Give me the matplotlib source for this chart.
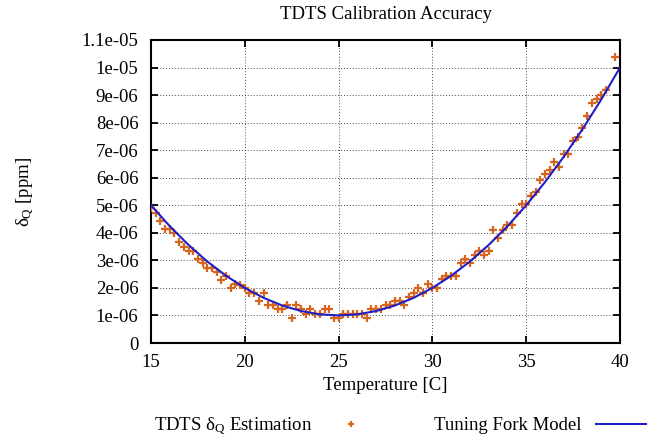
import numpy as np
import matplotlib
matplotlib.use("Agg")
import matplotlib.pyplot as plt

plt.rcParams['font.family'] = ['Liberation Serif', 'DejaVu Serif']
plt.rcParams['mathtext.fontset'] = 'custom'
plt.rcParams['mathtext.rm'] = 'Liberation Serif'
plt.rcParams['mathtext.it'] = 'Liberation Serif:italic'

# measured points (temperature in C, delta_Q in units of 1e-6)
meas_temp = [15.0, 15.25, 15.5, 15.75, 16.0, 16.25, 16.5, 16.75, 17.0, 17.25,
             17.5, 17.75, 18.0, 18.25, 18.5, 18.75, 19.0, 19.25, 19.5, 19.75,
             20.0, 20.25, 20.5, 20.75, 21.0, 21.25, 21.5, 21.75, 22.0, 22.25,
             22.5, 22.75, 23.0, 23.25, 23.5, 23.75, 24.0, 24.25, 24.5, 24.75,
             25.0, 25.25, 25.5, 25.75, 26.0, 26.25, 26.5, 26.75, 27.0, 27.25,
             27.5, 27.75, 28.0, 28.25, 28.5, 28.75, 29.0, 29.25, 29.5, 29.75,
             30.0, 30.25, 30.5, 30.75, 31.0, 31.25, 31.5, 31.75, 32.0, 32.25,
             32.5, 32.75, 33.0, 33.25, 33.5, 33.75, 34.0, 34.25, 34.5, 34.75,
             35.0, 35.25, 35.5, 35.75, 36.0, 36.25, 36.5, 36.75, 37.0, 37.25,
             37.5, 37.75, 38.0, 38.25, 38.5, 38.75, 39.0, 39.25, 39.75]
meas_val = [4.89, 4.71, 4.43, 4.13, 4.13, 3.98, 3.67, 3.50, 3.35, 3.35,
            3.05, 2.89, 2.73, 2.73, 2.59, 2.30, 2.43, 1.98, 2.14, 2.12,
            2.01, 1.83, 1.83, 1.52, 1.83, 1.37, 1.37, 1.22, 1.22, 1.37,
            0.92, 1.37, 1.22, 1.05, 1.22, 1.05, 1.05, 1.22, 1.22, 0.92,
            0.92, 1.05, 1.05, 1.05, 1.05, 1.05, 0.92, 1.22, 1.22, 1.22,
            1.37, 1.37, 1.52, 1.52, 1.37, 1.68, 1.83, 1.98, 1.83, 2.14,
            1.98, 1.98, 2.31, 2.44, 2.44, 2.44, 2.89, 3.05, 2.89, 3.21,
            3.35, 3.21, 3.35, 4.11, 3.81, 4.11, 4.27, 4.27, 4.73, 5.03,
            5.03, 5.35, 5.49, 5.92, 6.12, 6.27, 6.56, 6.40, 6.87, 6.87,
            7.34, 7.47, 7.79, 8.23, 8.70, 8.86, 9.01, 9.17, 10.38]

# tuning fork model read at 1 C steps
model_temp = list(range(15, 41))
model_val = [5.0, 4.24, 3.56, 2.96, 2.44, 2.0, 1.64, 1.36, 1.16, 1.04,
             1.0, 1.04, 1.16, 1.36, 1.64, 2.0, 2.44, 2.96, 3.56, 4.24,
             5.0, 5.84, 6.76, 7.76, 8.84, 10.0]

xticks = [15, 20, 25, 30, 35, 40]
yticks = [0, 1e-6, 2e-6, 3e-6, 4e-6, 5e-6, 6e-6, 7e-6, 8e-6, 9e-6, 1e-5, 1.1e-5]
ylabels = ["0", "1e-06", "2e-06", "3e-06", "4e-06", "5e-06", "6e-06",
           "7e-06", "8e-06", "9e-06", "1e-05", "1.1e-05"]

fs = 13.5

fig = plt.figure(figsize=(6.59, 4.41), dpi=100)
ax = fig.add_axes([151/659, 1-343/441, 469/659, 303/441])

ax.plot(meas_temp, np.array(meas_val)*1e-6, linestyle='none', marker='+',
        color='#d9641c', markersize=6, markeredgewidth=1.6,
        label=r'TDTS δ$_\mathrm{Q}$ Estimation', zorder=3)
ax.plot(model_temp, np.array(model_val)*1e-6, color='#1f1fc8', lw=1.5,
        label='Tuning Fork Model', zorder=4)

ax.set_xlim(15, 40)
ax.set_ylim(0, 1.1e-5)
ax.set_xticks(xticks)
ax.set_yticks(yticks)
ax.set_yticklabels(ylabels)
ax.tick_params(direction='in', length=5, width=1.3, labelsize=fs,
               top=True, right=True)
ax.tick_params(axis='y', pad=9)
ax.tick_params(axis='x', pad=8)
for s in ax.spines.values():
    s.set_linewidth(1.5)
ax.grid(True, color='black', linestyle=(0, (1, 2)), lw=0.7, alpha=0.7)

ax.set_title('TDTS Calibration Accuracy', fontsize=fs, pad=15)
ax.set_xlabel('Temperature [C]', fontsize=fs)
ax.xaxis.set_label_coords(0.5, -0.113)
ax.set_ylabel(r'δ$_\mathrm{Q}$ [ppm]', fontsize=fs)
ax.yaxis.set_label_coords(-0.245, 0.5)

ax.legend(loc='center', bbox_to_anchor=(0.531, -0.275), ncol=2, frameon=False,
          markerfirst=False, fontsize=fs, handlelength=2.67,
          handletextpad=0.75, columnspacing=3.1, markerscale=0.75)

fig.savefig('out.png', dpi=100)
